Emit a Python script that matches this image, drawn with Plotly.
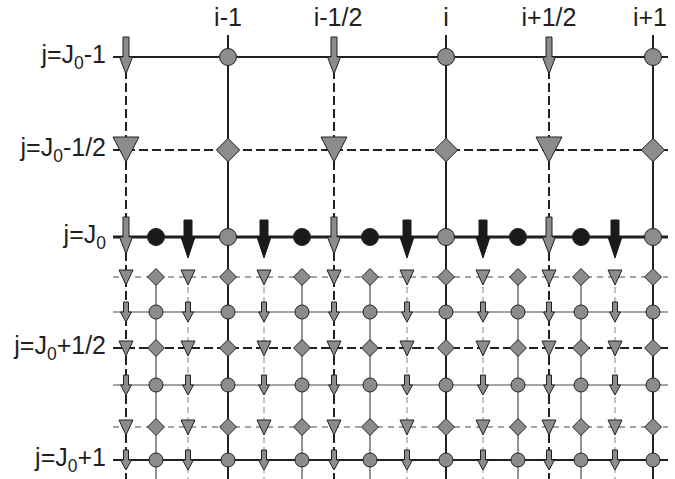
import plotly.graph_objects as go

# ---------------- data ----------------
top_labels = ["i-1", "i-1/2", "i", "i+1/2", "i+1"]
top_label_x = [228, 338, 446, 549, 650]

# coarse columns i-3/2 ... i+1
coarse_x = [126, 228, 334, 446, 549, 653]
coarse_kind = ["half", "int", "half", "int", "half", "int"]

# fine columns (1/6 of a coarse cell)
fine_x = [126, 156, 188, 228, 264, 302, 334, 370, 407, 446, 483, 518, 549, 581, 615, 653]

# rows J0-1 ... J0+1
row_labels = ["j=J<sub>0</sub>-1", "j=J<sub>0</sub>-1/2", "j=J<sub>0</sub>", "", "",
              "j=J<sub>0</sub>+1/2", "", "", "j=J<sub>0</sub>+1"]
row_y = [57, 150, 237, 277, 312, 348, 385, 427, 460]
row_kind = ["node", "face", "node", "face", "node", "face", "node", "face", "node"]
row_level = ["coarse", "coarse", "coarse", "fine", "fine", "fine", "fine", "fine", "fine"]

# ---------------- styles ----------------
DARK = "#231f20"
GRAY = "#8b8c8e"
MID = "#4a4a4a"
LIGHT = "#9a9a9a"
W, H = 675, 479
X_LEFT, X_RIGHT = 113, 668
TOP_EXT, BOTTOM = 35, 479
FONT = dict(family="Liberation Sans, Arial, Helvetica, sans-serif", size=25, color=DARK)

fig = go.Figure()


def hline(y, dash, width, color):
    fig.add_trace(go.Scatter(x=[X_LEFT, X_RIGHT], y=[y, y], mode="lines",
                             line=dict(color=color, width=width, dash=dash),
                             hoverinfo="skip", showlegend=False))


def vline(x, y0, y1, dash, width, color):
    fig.add_trace(go.Scatter(x=[x, x], y=[y0, y1], mode="lines",
                             line=dict(color=color, width=width, dash=dash),
                             hoverinfo="skip", showlegend=False))


# ---- vertical lines ----
coarse_set = set(coarse_x)
for x, k in zip(coarse_x, coarse_kind):
    if k == "int":
        vline(x, TOP_EXT, BOTTOM, "solid", 2, DARK)
    else:
        vline(x, row_y[0], BOTTOM, "9px,4px", 2, DARK)
fine_top = row_y[3]
for idx, x in enumerate(fine_x):
    if x in coarse_set:
        continue
    if idx % 2 == 1:
        vline(x, fine_top, BOTTOM, "solid", 1.2, MID)
    else:
        vline(x, fine_top, BOTTOM, "6px,4px", 1.2, LIGHT)

# ---- horizontal lines ----
for r, (y, kind, lvl) in enumerate(zip(row_y, row_kind, row_level)):
    if lvl == "coarse":
        if kind == "node":
            hline(y, "solid", 3 if r == 2 else 2, DARK)
        else:
            hline(y, "9px,4px", 2, DARK)
    else:
        major = row_labels[r] != ""
        if kind == "node":
            hline(y, "solid", 2 if major else 1.2, DARK if major else MID)
        else:
            hline(y, "9px,4px" if major else "6px,5px", 2 if major else 1.2, DARK if major else MID)

# ---- collect marks ----
circles_big, circles_small, dots_black = [], [], []
diam_big, diam_small = [], []
arrows_big, arrows_small, arrows_black = [], [], []
tri_big, tri_small = [], []

for r, (y, kind, lvl) in enumerate(zip(row_y, row_kind, row_level)):
    if lvl == "coarse":
        for x, k in zip(coarse_x, coarse_kind):
            if kind == "node":
                (circles_big if k == "int" else arrows_big).append((x, y))
            else:
                (diam_big if k == "int" else tri_big).append((x, y))
        if r == 2:
            for idx, x in enumerate(fine_x):
                if x in coarse_set:
                    continue
                (dots_black if idx % 2 == 1 else arrows_black).append((x, y))
    else:
        for idx, x in enumerate(fine_x):
            if kind == "node":
                (circles_small if idx % 2 == 1 else arrows_small).append((x, y))
            else:
                (diam_small if idx % 2 == 1 else tri_small).append((x, y))


def poly_trace(pts, shape_fn, fill, outline, lw=1):
    xs, ys = [], []
    for (x, y) in pts:
        px, py = shape_fn(x, y)
        xs += px + [px[0], None]
        ys += py + [py[0], None]
    fig.add_trace(go.Scatter(x=xs, y=ys, mode="lines", fill="toself", fillcolor=fill,
                             line=dict(color=outline, width=lw), hoverinfo="skip",
                             showlegend=False, connectgaps=False))


def arrow(sw, hw, top, tip):
    def f(x, y):
        px = [x - sw, x + sw, x + sw, x + hw, x, x - hw, x - sw]
        py = [y - top, y - top, y, y, y + tip, y, y]
        return px, py
    return f


def tri(hw, top, tip):
    def f(x, y):
        return [x - hw, x + hw, x], [y - top, y - top, y + tip]
    return f


def markers(pts, symbol, size, color, lw=1):
    fig.add_trace(go.Scatter(x=[p[0] for p in pts], y=[p[1] for p in pts], mode="markers",
                             marker=dict(symbol=symbol, size=size, color=color,
                                         line=dict(color=DARK, width=lw)),
                             hoverinfo="skip", showlegend=False))


poly_trace(arrows_big, arrow(3, 6.5, 20, 17), GRAY, DARK)
poly_trace(arrows_black, arrow(4, 7, 17, 21), "#1a1a1a", "#1a1a1a")
poly_trace(arrows_small, arrow(2.5, 5.5, 10, 10), GRAY, DARK)
poly_trace(tri_big, tri(13, 13, 12), GRAY, DARK)
poly_trace(tri_small, tri(7, 7, 8), GRAY, DARK)

markers(circles_big, "circle", 17, GRAY)
markers(circles_small, "circle", 14, GRAY)
markers(dots_black, "circle", 17, "#1a1a1a")
markers(diam_big, "diamond", 18, GRAY)
markers(diam_small, "diamond", 13, GRAY)

# ---- labels ----
fig.add_trace(go.Scatter(x=top_label_x, y=[20] * len(top_label_x), mode="text",
                         text=top_labels, textposition="middle center",
                         textfont=FONT, hoverinfo="skip", showlegend=False))
lab_y = [y for y, t in zip(row_y, row_labels) if t]
lab_t = [t for t in row_labels if t]
fig.add_trace(go.Scatter(x=[106] * len(lab_y), y=lab_y, mode="text", text=lab_t,
                         textposition="middle left", textfont=FONT,
                         hoverinfo="skip", showlegend=False))

fig.update_layout(
    width=W, height=H, margin=dict(l=0, r=0, t=0, b=0),
    paper_bgcolor="white", plot_bgcolor="white",
    xaxis=dict(range=[0, W], visible=False, fixedrange=True),
    yaxis=dict(range=[H, 0], visible=False, fixedrange=True),
)
fig.write_html("out.html")
